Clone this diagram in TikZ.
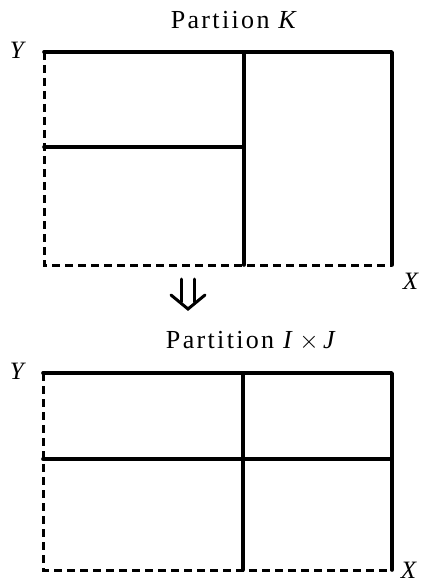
\documentclass[tikz,border=0pt]{standalone}
\usepackage{fontspec}
\setmainfont{Liberation Serif}
\begin{document}
\begin{tikzpicture}[x=1pt,y=-1pt,
  solidline/.style={line width=3.6pt,line cap=round,line join=round},
  dashline/.style={line width=3pt,dash pattern=on 8pt off 5pt},
  lbl/.style={font=\fontsize{25}{27}\selectfont,inner sep=0pt},
  ttl/.style={font=\fontsize{26}{28}\selectfont\addfontfeature{LetterSpace=9},inner sep=0pt},
  arrline/.style={line width=3pt,line cap=round,line join=miter}]
\useasboundingbox (0,0) rectangle (429,583);
% top rectangle
\coordinate (a1) at (44,52);  \coordinate (a2) at (392,52);
\coordinate (a3) at (392,265); \coordinate (a4) at (44,265);
\coordinate (am1) at (244,52); \coordinate (am2) at (244,265);
\coordinate (ah1) at (44,147); \coordinate (ah2) at (244,147);
\draw[dashline] (a1) -- (a4) -- (a3);
\draw[solidline] (a1) -- (a2) -- (a3);
\draw[solidline] (am1) -- (am2);
\draw[solidline] (ah1) -- (ah2);
\node[ttl] (t1) at (235,20) {Partiion \textit{K}};
\node[lbl] (y1) at (18,50) {\textit{Y}};
\node[lbl] (x1) at (411,281) {\textit{X}};
% arrow
\coordinate (p1) at (181,279); \coordinate (p2) at (181,302);
\coordinate (q1) at (194,279); \coordinate (q2) at (194,302);
\coordinate (h1) at (171,295); \coordinate (h2) at (188,309); \coordinate (h3) at (205,295);
\draw[arrline] (p1) -- (p2);
\draw[arrline] (q1) -- (q2);
\draw[arrline] (h1) -- (h2) -- (h3);
% bottom rectangle
\coordinate (b1) at (43,373);  \coordinate (b2) at (392,373);
\coordinate (b3) at (392,570); \coordinate (b4) at (43,570);
\coordinate (bm1) at (243,373); \coordinate (bm2) at (243,570);
\coordinate (bh1) at (43,459); \coordinate (bh2) at (392,459);
\draw[dashline] (b1) -- (b4) -- (b3);
\draw[solidline] (b1) -- (b2) -- (b3);
\draw[solidline] (bm1) -- (bm2);
\draw[solidline] (bh1) -- (bh2);
\node[ttl] (t2) at (252,341) {Partition \textit{I}\,$\times$\,\textit{J}};
\node[lbl] (y2) at (18,371) {\textit{Y}};
\node[lbl,anchor=south] (x2) at (409,579) {\textit{X}};
\end{tikzpicture}
\end{document}
